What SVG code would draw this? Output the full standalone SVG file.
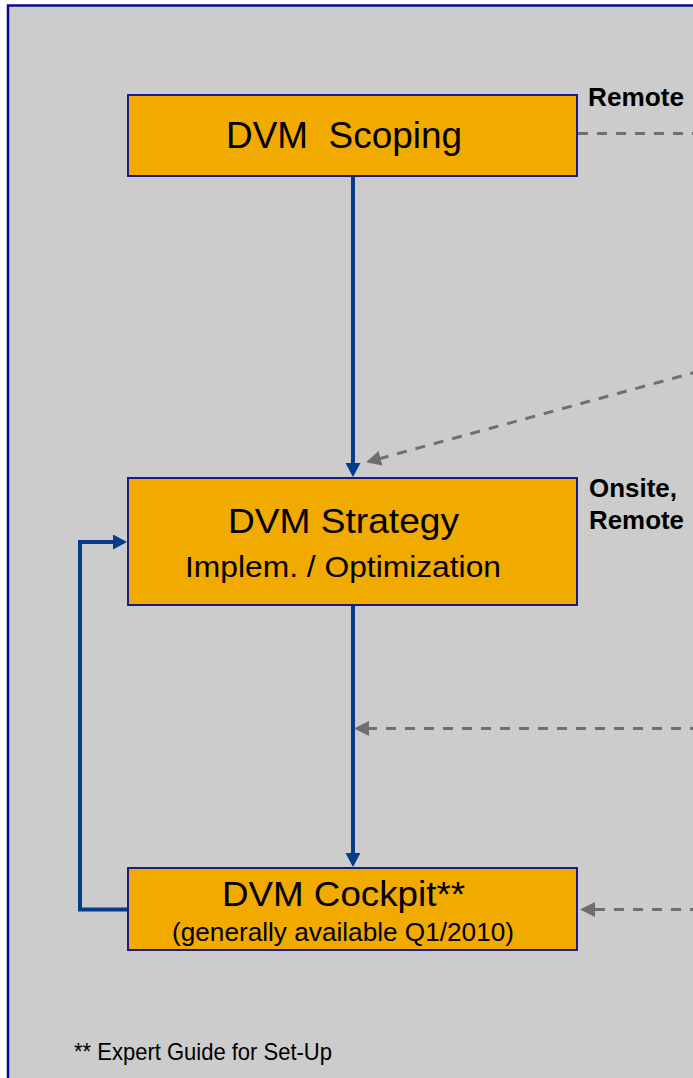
<svg xmlns="http://www.w3.org/2000/svg" width="693" height="1078" viewBox="0 0 693 1078">
  <style>
    .frame { fill: #CCCCCC; stroke: #0A0A8C; stroke-width: 2.5; }
    .box { fill: #F0AA00; stroke: #1A1A88; stroke-width: 2; }
    .t { font-family: "Liberation Sans", Arial, sans-serif; fill: #000000; }
    .lbl { font-family: "Liberation Sans", Arial, sans-serif; font-weight: bold; fill: #000000; font-size: 25px; }
    .flow { fill: none; stroke: #063A8A; stroke-width: 4; }
    .dash { fill: none; stroke: #707070; stroke-width: 3; stroke-dasharray: 10 9; }
  </style>
  <defs>
    <marker id="arrowBlue" markerUnits="userSpaceOnUse" markerWidth="15" markerHeight="16" refX="11" refY="7.5" orient="auto" viewBox="0 0 15 16">
      <path d="M0,0 L14,7.5 L0,15 z" fill="#063A8A"/>
    </marker>
    <marker id="arrowGray" markerUnits="userSpaceOnUse" markerWidth="16" markerHeight="16" refX="12" refY="7.5" orient="auto" viewBox="0 0 16 16">
      <path d="M0,0 L15,7.5 L0,15 z" fill="#6E6E6E"/>
    </marker>
  </defs>

  <rect x="0" y="0" width="693" height="1078" fill="#FFFFFF"/>
  <rect class="frame" x="8" y="5.5" width="800" height="1200"/>

  <g id="connectors">
    <path class="flow" d="M353,176 L353,474" marker-end="url(#arrowBlue)"/>
    <path class="flow" d="M353,605 L353,864" marker-end="url(#arrowBlue)"/>
    <path class="flow" d="M128,909.5 L80,909.5 L80,542 L124,542" marker-end="url(#arrowBlue)"/>
    <path class="dash" d="M578,133.5 L700,133.5"/>
    <path class="dash" d="M700,371 L369,461.5" marker-end="url(#arrowGray)"/>
    <path class="dash" d="M700,728.5 L357,728.5" marker-end="url(#arrowGray)"/>
    <path class="dash" d="M700,909.5 L583,909.5" marker-end="url(#arrowGray)"/>
  </g>

  <g id="scoping">
    <rect class="box" x="128" y="95" width="449" height="81"/>
    <text class="t" x="226" y="148" font-size="36" textLength="236" lengthAdjust="spacingAndGlyphs" xml:space="preserve">DVM  Scoping</text>
  </g>
  <g id="scoping-label">
    <text class="lbl" x="588" y="106" textLength="96" lengthAdjust="spacingAndGlyphs">Remote</text>
  </g>

  <g id="strategy">
    <rect class="box" x="128" y="478" width="449" height="127"/>
    <text class="t" x="228" y="533" font-size="35" textLength="231" lengthAdjust="spacingAndGlyphs">DVM Strategy</text>
    <text class="t" x="185" y="577" font-size="30" textLength="316" lengthAdjust="spacingAndGlyphs">Implem. / Optimization</text>
  </g>
  <g id="strategy-label">
    <text class="lbl" x="589" y="497" textLength="88" lengthAdjust="spacingAndGlyphs">Onsite,</text>
    <text class="lbl" x="589" y="529" textLength="95" lengthAdjust="spacingAndGlyphs">Remote</text>
  </g>

  <g id="cockpit">
    <rect class="box" x="128" y="868" width="449" height="82"/>
    <text class="t" x="222" y="906" font-size="35" textLength="243" lengthAdjust="spacingAndGlyphs">DVM Cockpit**</text>
    <text class="t" x="172" y="941" font-size="25" textLength="342" lengthAdjust="spacingAndGlyphs">(generally available Q1/2010)</text>
  </g>

  <g id="footnote">
    <text class="t" x="74" y="1060" font-size="24" textLength="258" lengthAdjust="spacingAndGlyphs">** Expert Guide for Set-Up</text>
  </g>
</svg>
